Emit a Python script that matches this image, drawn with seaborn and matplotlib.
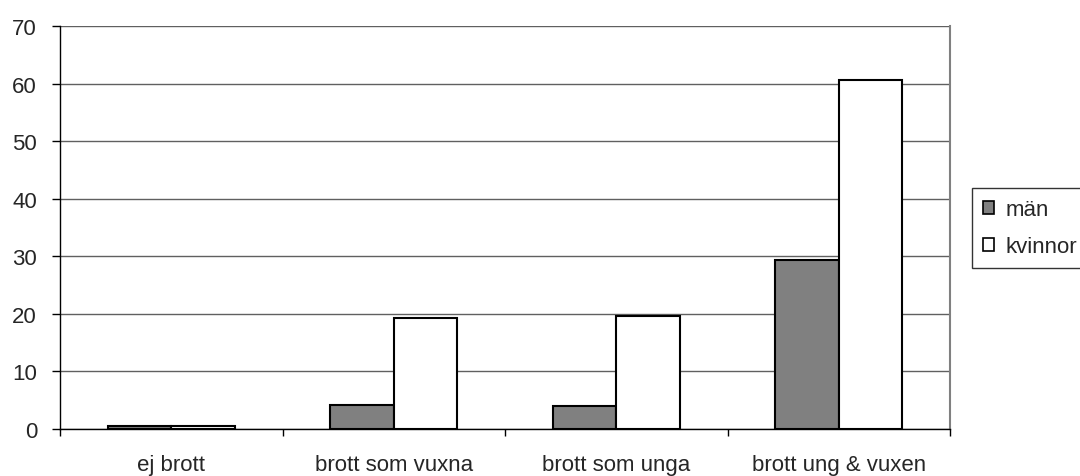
import matplotlib
matplotlib.use("Agg")
import matplotlib.pyplot as plt
import seaborn as sns
import pandas as pd
from matplotlib.patches import Patch

categories = ["ej brott", "brott som vuxna", "brott som unga", "brott ung & vuxen"]
man = [0.6, 4.1, 4.0, 29.4]
kvinnor = [0.6, 19.3, 19.7, 60.6]
series = ["män", "kvinnor"]

df = pd.DataFrame({
    "kategori": categories * 2,
    "värde": man + kvinnor,
    "kön": [series[0]] * 4 + [series[1]] * 4,
})

sns.set_theme(style="white")
plt.rcParams["font.family"] = ["Liberation Sans", "DejaVu Sans"]

fig = plt.figure(figsize=(10.8, 4.77), dpi=100)
ax = fig.add_axes([60 / 1080, 47 / 477, 890 / 1080, 403 / 477])

palette = {"män": "#808080", "kvinnor": "#ffffff"}
sns.barplot(data=df, x="kategori", y="värde", hue="kön", palette=palette,
            width=0.57, edgecolor="black", linewidth=1.5, ax=ax, legend=False,
            saturation=1)

ax.set_ylim(0, 70)
ax.set_xlim(-0.5, 3.5)
ax.set_yticks(range(0, 71, 10))
ax.set_xlabel("")
ax.set_ylabel("")
ax.yaxis.grid(True, color="#606060", linewidth=1)
ax.set_axisbelow(True)

ax.set_xticks([-0.5, 0.5, 1.5, 2.5, 3.5], minor=True)
ax.tick_params(axis="x", which="major", length=0, labelsize=16, pad=18)
ax.tick_params(axis="x", which="minor", length=5, width=1, color="black", direction="out")
ax.tick_params(axis="y", length=5.5, width=1, color="black", direction="out", labelsize=16, pad=11)
ax.tick_params(bottom=True, left=True, which="both")

for s in ["left", "bottom"]:
    ax.spines[s].set_color("black")
    ax.spines[s].set_linewidth(1)
ax.spines["right"].set_color("#808080")
ax.spines["right"].set_linewidth(1.5)
ax.spines["top"].set_visible(False)

handles = [Patch(facecolor=palette[s], edgecolor="black", linewidth=1.2) for s in series]
leg = ax.legend(handles, series, loc="upper left", bbox_to_anchor=(1.0247, 0.598),
                frameon=True, fancybox=False, fontsize=16, handlelength=0.5,
                handleheight=0.5, handletextpad=0.5, borderpad=0.5, labelspacing=0.72,
                borderaxespad=0)
leg.get_frame().set_edgecolor("black")
leg.get_frame().set_linewidth(1)

fig.savefig("out.png", dpi=100)
